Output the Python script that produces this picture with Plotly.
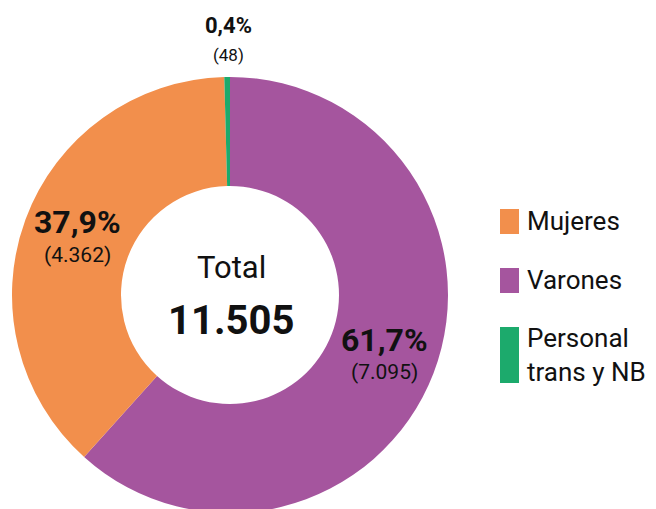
import plotly.graph_objects as go

# Data
categories = ["Varones", "Mujeres", "Personal trans y NB"]
values = [7095, 4362, 48]
colors = ["#A5559E", "#F28F4C", "#1CAA6C"]
pct_labels = ["61,7%", "37,9%", "0,4%"]
count_labels = ["(7.095)", "(4.362)", "(48)"]
center_title = "Total"
total_label = "11.505"
legend_order = ["Mujeres", "Varones", "Personal<br>trans y NB"]
legend_colors = ["#F28F4C", "#A5559E", "#1CAA6C"]

W, H = 656, 540
ML, MR, MT, MB = 12, 0, 77, 27
PW, PH = W - ML - MR, H - MT - MB

def px(x):
    return (x - ML) / PW

def py(y):
    return (H - MB - y) / PH

FONT = "Roboto"

fig = go.Figure(go.Pie(
    labels=categories, values=values, hole=0.5, sort=False,
    direction="clockwise", rotation=0,
    marker=dict(colors=colors, line=dict(width=0)),
    textinfo="none", hoverinfo="label+value+percent",
    domain=dict(x=[0, PH / PW], y=[0, 1]),
    showlegend=False,
))

ann = []
def add(x, y, text, size, bold=False, color="#111111", family=FONT):
    ann.append(dict(x=px(x), y=py(y), xref="paper", yref="paper", text=(f"<b>{text}</b>" if bold else text),
                    showarrow=False, xanchor="center", yanchor="middle",
                    font=dict(family=family, size=size, color=color)))

add(231, 267, center_title, 31)
add(231, 320, total_label, 40, bold=True)
add(77, 222, pct_labels[1], 32, bold=True)
add(77, 255, count_labels[1], 21)
add(384, 340, pct_labels[0], 32, bold=True)
add(384, 372, count_labels[0], 21)
add(228, 26, pct_labels[2], 22, bold=True)
add(228, 55, count_labels[2], 17)

shapes = []
leg_boxes = [(209, 234), (268, 293), (327, 383)]
leg_text_y = [221, 280, 355]
for name, col, (y0, y1), ty in zip(legend_order, legend_colors, leg_boxes, leg_text_y):
    shapes.append(dict(type="rect", xref="paper", yref="paper", x0=px(500), x1=px(519),
                       y0=py(y1), y1=py(y0), fillcolor=col, line=dict(width=0)))
    ann.append(dict(x=px(525), y=py(ty), xref="paper", yref="paper", text=name, showarrow=False,
                    xanchor="left", yanchor="middle", align="left",
                    font=dict(family=FONT, size=26, color="#111111")))

fig.update_layout(
    width=W, height=H, margin=dict(l=ML, r=MR, t=MT, b=MB),
    paper_bgcolor="white", plot_bgcolor="white",
    annotations=ann, shapes=shapes,
)

fig.write_html("out.html", config={"displayModeBar": False},
               post_script="document.body.style.margin='0';document.body.style.overflow='hidden';document.documentElement.style.overflow='hidden';")
